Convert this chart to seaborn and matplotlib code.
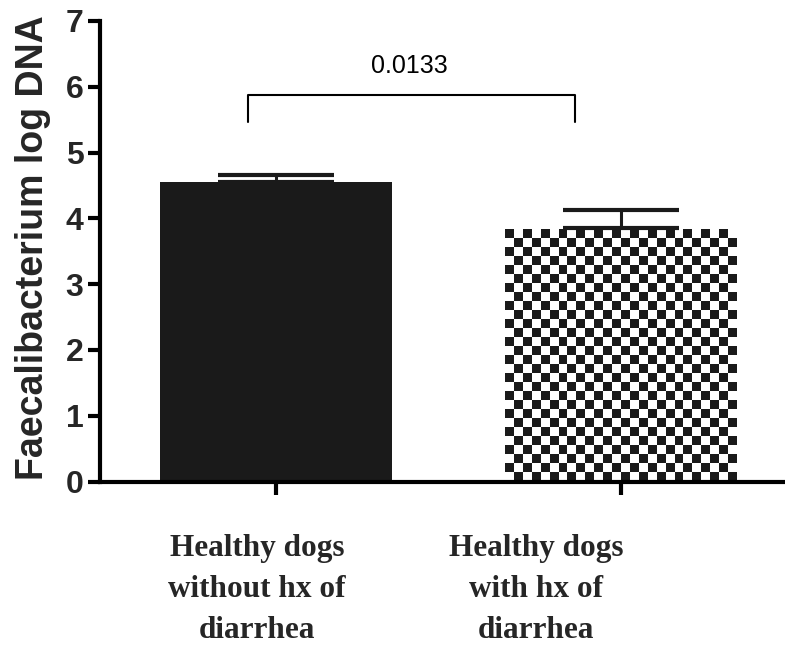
import numpy as np
import pandas as pd
import matplotlib
matplotlib.use("Agg")
import matplotlib.pyplot as plt
import seaborn as sns

# ---- data ----
groups = ["Healthy dogs\nwithout hx of\ndiarrhea", "Healthy dogs\nwith hx of\ndiarrhea"]
means = [4.56, 3.85]
sem = [0.10, 0.28]
p_label = "0.0133"
y_ticks = [0, 1, 2, 3, 4, 5, 6, 7]
y_label = "Faecalibacterium log DNA"

sns.set_theme(style="white")
plt.rcParams["font.family"] = ["Liberation Sans", "DejaVu Sans"]

df = pd.DataFrame({"group": groups, "mean": means})

fig = plt.figure(figsize=(7.85, 6.45), dpi=100)
ax = fig.add_axes([100 / 785, (645 - 481.5) / 645, (785 - 100) / 785, (481.5 - 21) / 645])

dark = "#1a1a1a"
sns.barplot(data=df, x="group", y="mean", order=groups, ax=ax, width=0.67,
            color=dark, saturation=1, errorbar=None, linewidth=0)
bars = ax.patches
# second bar: checkerboard fill
b2 = bars[1]
b2.set_facecolor("white")
x0, w = b2.get_x(), b2.get_width()
h = b2.get_height()
ncol = 26
nrow = int(round(h * 65.8 / 9.0))
checker = (np.add.outer(np.arange(nrow), np.arange(ncol)) % 2).astype(float)
im = ax.imshow(checker, cmap=matplotlib.colors.ListedColormap(["white", dark]),
               extent=[x0, x0 + w, 0, nrow * 9.0 / 65.8], origin="lower",
               interpolation="nearest", aspect="auto", zorder=2)
im.set_clip_path(b2)

# error bars (upper only)
xs = np.arange(len(groups))
ax.errorbar(xs, means, yerr=[np.zeros(len(sem)), sem], fmt="none", ecolor=dark,
            elinewidth=2.2, capsize=42, capthick=3, zorder=3)

ax.set_xlim(-0.51, 1.475)
ax.set_ylim(0, 7)
ax.set_yticks(y_ticks)
ax.set_yticklabels([str(t) for t in y_ticks], fontsize=23, fontweight="bold")
ax.set_xticks(xs)
ax.set_xticklabels(["", ""])
ax.set_xlabel("")
ax.set_ylabel("")

for s in ["top", "right"]:
    ax.spines[s].set_visible(False)
for s in ["left", "bottom"]:
    ax.spines[s].set_linewidth(3)
    ax.spines[s].set_color("black")
ax.tick_params(axis="y", left=True, length=9, width=3, pad=3, color="black")
ax.tick_params(axis="x", bottom=True, length=9, width=3, color="black")

# group labels
label_x = [-0.055, 0.754]
for lx, g in zip(label_x, groups):
    ax.text(lx, -0.80, g, ha="center", va="top", fontsize=22.5, fontweight="bold",
            family=["Liberation Serif", "DejaVu Serif"], linespacing=1.55,
            clip_on=False)

# y label
fig.text(33 / 785, 1 - 248 / 645, y_label, rotation=90, ha="center", va="center",
         fontsize=27, fontweight="bold")

# significance bracket
bx = [-0.081, -0.081, 0.867, 0.867]
by = [5.46, 5.87, 5.87, 5.46]
ax.plot(bx, by, color="black", lw=1.5, solid_joinstyle="round", clip_on=False)
ax.text(0.386, 6.31, p_label, ha="center", va="center", fontsize=18, color="black")

fig.savefig("out.png", dpi=100)
